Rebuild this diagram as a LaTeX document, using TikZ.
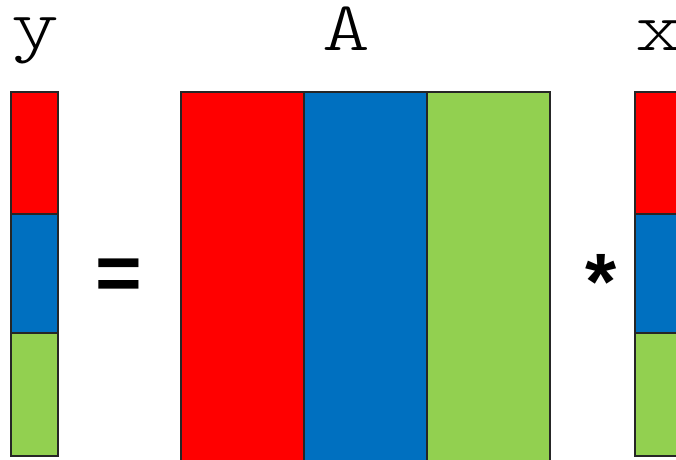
\documentclass[tikz,border=0pt]{standalone}
\usepackage{fontspec}
\newfontfamily\signfont{Liberation Sans}
\newfontfamily\namefont{Latin Modern Mono Light}
\usetikzlibrary{positioning}
\definecolor{cellred}{RGB}{255,0,0}
\definecolor{cellblue}{RGB}{0,112,192}
\definecolor{cellgreen}{RGB}{146,208,80}

\begin{document}
\begin{tikzpicture}[x=1pt,y=1pt,
  cell/.style={draw=black!85,line width=1.4pt,outer sep=0pt,inner sep=0pt,anchor=north west},
  vecname/.style={font=\namefont\fontsize{70}{70}\selectfont,anchor=base,inner sep=0pt,
    text height=42pt,text depth=14pt,xscale=1.3,transform shape},
  opsign/.style={font=\signfont\bfseries\fontsize{80}{80}\selectfont,inner sep=0pt}]
\useasboundingbox (0,0) rectangle (676,459);
\clip (0,0) rectangle (676,459);
% vector y
\node[cell,fill=cellred,minimum width=47pt,minimum height=122pt] (y1) at (11,367) {};
\node[cell,fill=cellblue,minimum width=47pt,minimum height=119pt,below=0pt of y1] (y2) {};
\node[cell,fill=cellgreen,minimum width=47pt,minimum height=123pt,below=0pt of y2] (y3) {};
% matrix A
\node[cell,fill=cellred,minimum width=123pt,minimum height=400pt] (A1) at (181,367) {};
\node[cell,fill=cellblue,minimum width=123pt,minimum height=400pt,right=0pt of A1] (A2) {};
\node[cell,fill=cellgreen,minimum width=123pt,minimum height=400pt,right=0pt of A2] (A3) {};
% vector x
\node[cell,fill=cellred,minimum width=47pt,minimum height=122pt] (x1) at (635,367) {};
\node[cell,fill=cellblue,minimum width=47pt,minimum height=119pt,below=0pt of x1] (x2) {};
\node[cell,fill=cellgreen,minimum width=47pt,minimum height=123pt,below=0pt of x2] (x3) {};
% names and signs
\node[vecname] (ylabel) at (35,411) {y};
\node[vecname] (Alabel) at (346,409) {A};
\node[vecname] (xlabel) at (659,409) {x};
\node[opsign] (eq) at (119,179) {=};
\node[opsign] (times) at (601,177) {*};
\end{tikzpicture}
\end{document}
